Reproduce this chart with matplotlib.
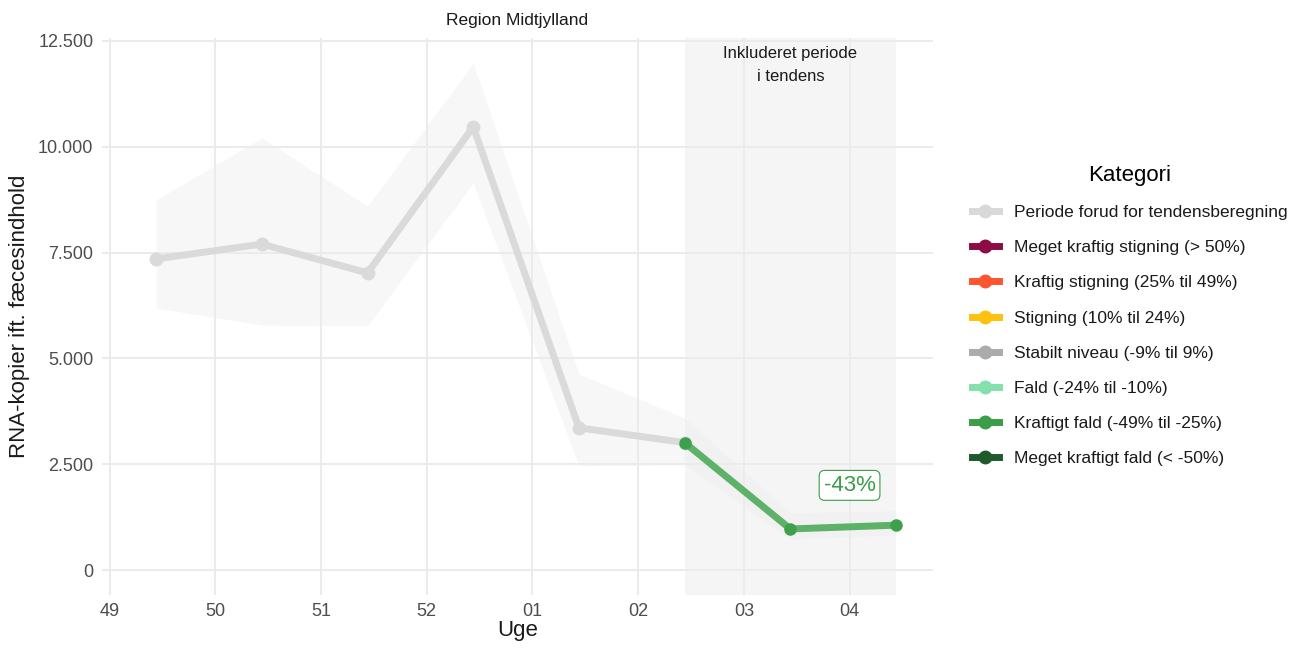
import matplotlib.pyplot as plt
from matplotlib.lines import Line2D

plt.rcParams['font.family'] = ['Liberation Sans', 'DejaVu Sans']

# data
weeks = ["49", "50", "51", "52", "01", "02", "03", "04"]
values = [7350, 7700, 7020, 10470, 3360, 3010, 970, 1060]
upper = [8740, 10210, 8600, 11970, 4630, 3590, 1350, 1400]
lower = [6190, 5790, 5770, 9150, 2460, 2480, 730, 830]
trend_start = 5  # index of first week in trend period
trend_label = "-43%"

categories = ["Periode forud for tendensberegning",
              "Meget kraftig stigning (> 50%)",
              "Kraftig stigning (25% til 49%)",
              "Stigning (10% til 24%)",
              "Stabilt niveau (-9% til 9%)",
              "Fald (-24% til -10%)",
              "Kraftigt fald (-49% til -25%)",
              "Meget kraftigt fald (< -50%)"]
cat_colors = ["#d9d9d9", "#8e0c45", "#fc5530", "#fdc10e", "#ababab",
              "#84e0ad", "#3a9d48", "#1f5b2a"]

offset = 0.44
x = [i + offset for i in range(len(weeks))]

fig = plt.figure(figsize=(12.97, 6.48), dpi=100)
ax = fig.add_axes([0.0784, 0.0818, 0.641, 0.8596])

# trend period background
ax.axvspan(x[trend_start], x[-1], color="#f5f5f5", zorder=0, lw=0)

# confidence ribbon
ax.fill_between(x, lower, upper, color="#ebebeb", alpha=0.4, lw=0, zorder=1)

# pre-trend line
ax.plot(x[:trend_start + 1], values[:trend_start + 1], color="#dadada", lw=5,
        marker="o", ms=9, solid_capstyle="round", zorder=3)
# trend line
ax.plot(x[trend_start:], values[trend_start:], color="#5eb169", lw=5,
        solid_capstyle="round", zorder=4)
ax.plot(x[trend_start:], values[trend_start:], color="#3ea04c", lw=0,
        marker="o", ms=8, zorder=5)

ax.text(x[-1] - 0.44, 2000, trend_label, color="#3a9d48", fontsize=16,
        ha="center", va="center", zorder=6,
        bbox=dict(boxstyle="round,pad=0.2,rounding_size=0.25", fc="white",
                  ec="#3a9d48", lw=0.8))

ax.text((x[trend_start] + x[-1]) / 2, 12380, "Inkluderet periode\ni tendens",
        ha="center", va="top", fontsize=12, color="#1a1a1a",
        linespacing=1.65)

ax.set_xlim(-0.075, 7.79)
ax.set_ylim(-590, 12570)
ax.set_xticks(range(len(weeks)))
ax.set_xticklabels(weeks)
ax.set_yticks([0, 2500, 5000, 7500, 10000, 12500])
ax.set_yticklabels(["0", "2.500", "5.000", "7.500", "10.000", "12.500"])
ax.tick_params(axis="both", length=0, labelsize=13, labelcolor="#4d4d4d",
               pad=6)
ax.grid(True, color="#ebebeb", lw=1.4, zorder=0.5)
ax.set_axisbelow(True)
for s in ax.spines.values():
    s.set_visible(False)

ax.set_xlabel("Uge", fontsize=16, color="#1a1a1a", labelpad=0)
ax.set_ylabel("RNA-kopier ift. fæcesindhold", fontsize=16, color="#1a1a1a",
              labelpad=6)
ax.set_title("Region Midtjylland", fontsize=12.5, color="#1a1a1a", pad=9)

handles = [Line2D([], [], color=c, lw=5, marker="o", ms=9) for c in cat_colors]
leg = fig.legend(handles, categories, title="Kategori", loc="upper left",
                 bbox_to_anchor=(0.737, 0.770), frameon=False, fontsize=12.5,
                 title_fontsize=16, handlelength=1.6, labelspacing=1.15,
                 handletextpad=0.86)
leg._legend_box.sep = 14
for t in leg.get_texts():
    t.set_color("#1a1a1a")

fig.savefig("out.png", dpi=100)
